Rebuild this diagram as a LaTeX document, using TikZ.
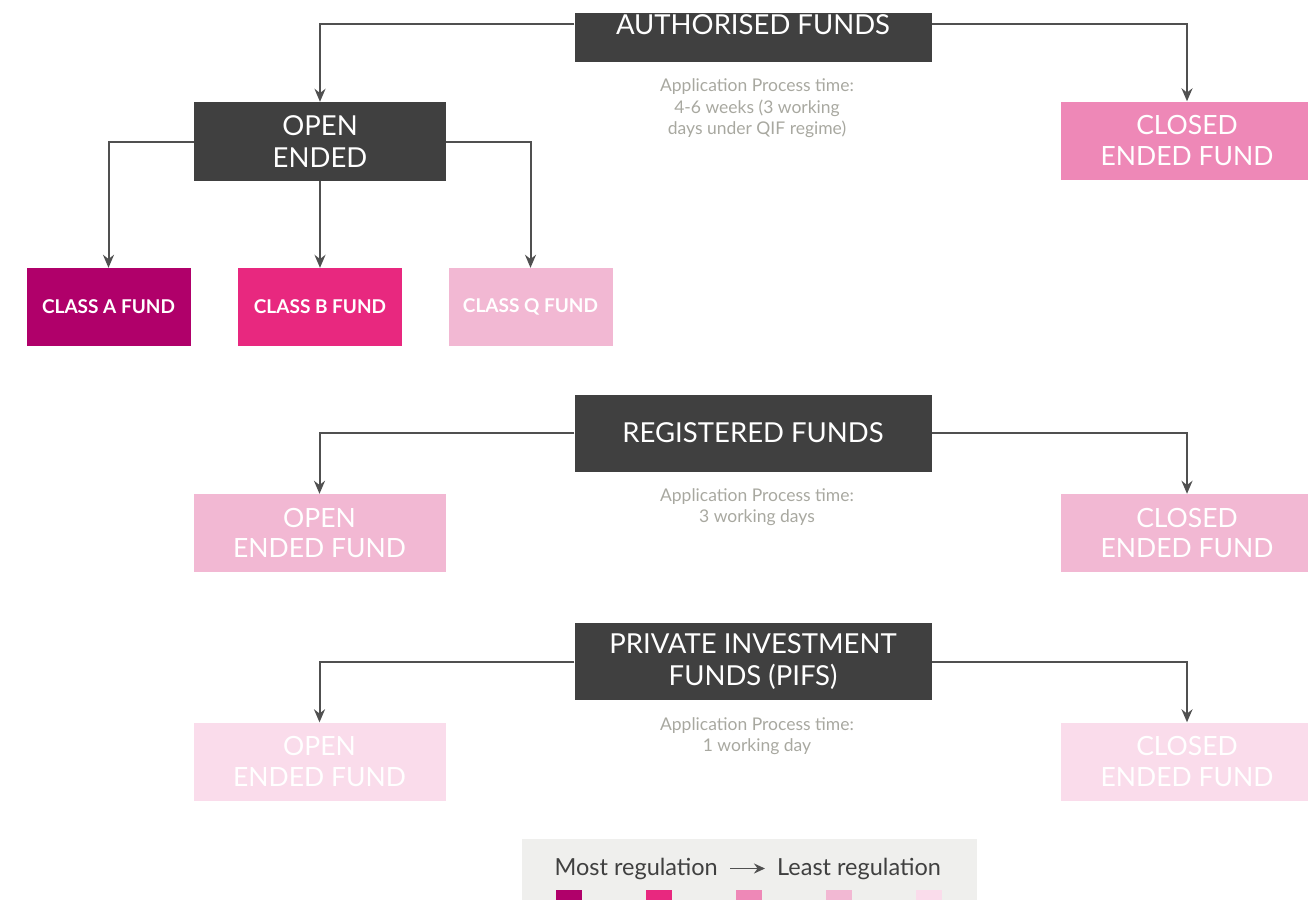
\documentclass[tikz,border=0pt]{standalone}
\usepackage{fontspec}
\setmainfont{Lato}
\usetikzlibrary{arrows.meta,positioning}

\definecolor{darkbox}{RGB}{64,64,64}
\definecolor{regA}{RGB}{176,0,106}
\definecolor{regB}{RGB}{232,40,127}
\definecolor{regC}{RGB}{238,136,183}
\definecolor{regD}{RGB}{242,184,211}
\definecolor{regE}{RGB}{250,220,235}
\definecolor{linegray}{RGB}{80,80,80}
\definecolor{notegray}{RGB}{168,168,160}
\definecolor{legendbg}{RGB}{239,239,237}

\begin{document}
\begin{tikzpicture}[
            x = 1pt, y = -1pt,
            head/.style = {
                fill = darkbox, text = white,
                align = center, inner sep = 0pt,
                minimum width = 357pt, minimum height = 77pt,
                font = \fontsize{27.5}{32}\selectfont,
            },
            classbox/.style = {
                text = white, align = center, inner sep = 0pt,
                minimum width = 164pt, minimum height = 78pt,
                font = \fontsize{19}{22}\selectfont\bfseries,
            },
            fund/.style = {
                text = white, align = center, inner sep = 0pt,
                minimum width = 252pt, minimum height = 78pt,
                font = \fontsize{26.5}{30.5}\selectfont,
            },
            note/.style = {
                text = notegray, align = center,
                font = \fontsize{17.5}{21.5}\selectfont,
            },
            legtext/.style = {
                text = darkbox, inner sep = 0pt,
                font = \fontsize{23.5}{26}\selectfont,
            },
            link/.style = {
                draw = linegray, line width = 2pt,
                -{Stealth[length = 13pt, width = 11pt]},
            },
        ]
        \useasboundingbox (0,0) rectangle (1308,899);

        % Kopjes
        \node[head, minimum height = 49pt, text height = 21.5pt, text depth = 27.5pt] (auth) at (753,37.5) {AUTHORISED FUNDS};
        \node[head] (reg) at (753,433) {REGISTERED FUNDS};
        \node[head] (pifs) at (753,661.5) {PRIVATE INVESTMENT\\FUNDS (PIFS)};
        \node[head, minimum width = 252pt, minimum height = 79pt] (open) at (320,141.5) {OPEN\\ENDED};

        % Aanvraagtijden
        \node[note] (authtime) at (757,108.5) {Application Process time:\\4-6 weeks (3 working\\days under QIF regime)};
        \node[note] (regtime) at (757,507) {Application Process time:\\3 working days};
        \node[note] (pifstime) at (757,736) {Application Process time:\\1 working day};

        % Fondsen
        \node[classbox, fill = regA] (classa) at (108.5,307) {CLASS A FUND};
        \node[classbox, fill = regB] (classb) at (320,307) {CLASS B FUND};
        \node[classbox, fill = regD] (classq) at (530.5,307) {CLASS Q FUND};
        \node[fund, fill = regC] (authclosed) at (1187,140.5) {CLOSED\\ENDED FUND};
        \node[fund, fill = regD] (regopen) at (319.5,533) {OPEN\\ENDED FUND};
        \node[fund, fill = regD] (regclosed) at (1187,533) {CLOSED\\ENDED FUND};
        \node[fund, fill = regE] (pifsopen) at (319.5,761.5) {OPEN\\ENDED FUND};
        \node[fund, fill = regE] (pifsclosed) at (1187,761.5) {CLOSED\\ENDED FUND};

        % Verbindingen
        \draw[link] ([yshift = 13.5pt]auth.west) -| (open.north);
        \draw[link] ([yshift = 13.5pt]auth.east) -| (authclosed.north);
        \draw[link] (open.west) -| (classa.north);
        \draw[link] (open.south) -- (classb.north);
        \draw[link] (open.east) -| (classq.north);
        \draw[link] (reg.west) -| (regopen.north);
        \draw[link] (reg.east) -| (regclosed.north);
        \draw[link] (pifs.west) -| (pifsopen.north);
        \draw[link] (pifs.east) -| (pifsclosed.north);

        % Legenda
        \node[fill = legendbg, inner sep = 0pt, minimum width = 455pt, minimum height = 75pt, anchor = north west] (legend) at (522,839) {};
        \node[legtext, anchor = base east] (most) at (718,875) {Most regulation};
        \node[legtext, anchor = base west] (least) at (777,875) {Least regulation};
        \draw[link, line width = 1.8pt, -{Stealth[length = 11pt, width = 10pt]}, shorten < = 12pt, shorten > = 12pt] (most) -- (least);
        \foreach \shade [count = \i] in {regA, regB, regC, regD, regE}
            \node[fill = \shade, inner sep = 0pt, minimum size = 26pt, anchor = north west] (swatch\i) at ({556 + 90*(\i - 1)},890) {};
    \end{tikzpicture}
\end{document}
